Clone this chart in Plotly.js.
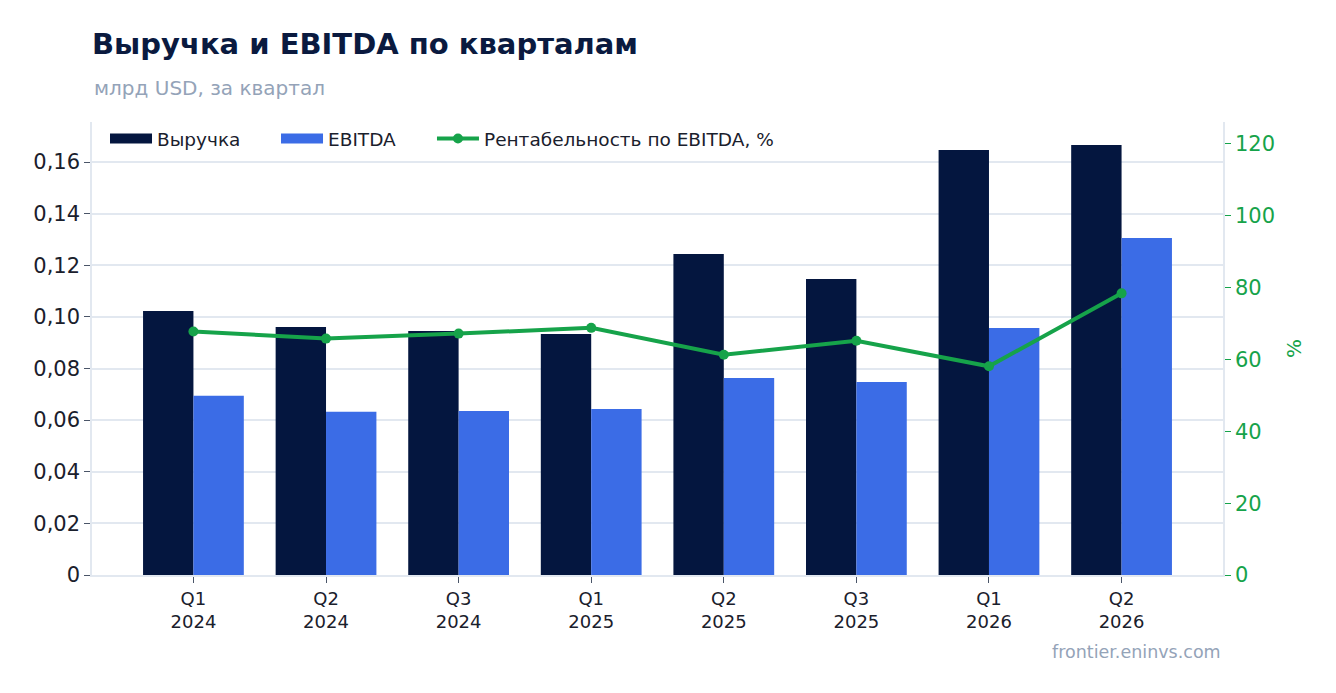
<!DOCTYPE html>
<html>
<head>
<meta charset="utf-8">
<script src="https://cdn.plot.ly/plotly-3.0.1.min.js"></script>
<style>html,body{margin:0;padding:0;background:#fff;}#chart{width:1336px;height:693px;}</style>
</head>
<body>
<div id="chart"></div>
<script>
const quarters = ["Q1<br>2024","Q2<br>2024","Q3<br>2024","Q1<br>2025","Q2<br>2025","Q3<br>2025","Q1<br>2026","Q2<br>2026"];
const revenue = [0.1023, 0.0961, 0.0945, 0.0934, 0.1244, 0.1147, 0.1647, 0.1666];
const ebitda = [0.0694, 0.0632, 0.0635, 0.0643, 0.0763, 0.0748, 0.0957, 0.1306];
const margin = [67.8, 65.8, 67.2, 68.8, 61.3, 65.2, 58.1, 78.4];
const leftTickVals = [0, 0.02, 0.04, 0.06, 0.08, 0.10, 0.12, 0.14, 0.16];
const leftTickText = ["0", "0,02", "0,04", "0,06", "0,08", "0,10", "0,12", "0,14", "0,16"];

const font = "DejaVu Sans, sans-serif";
const data = [
  {type:"bar", name:"Выручка", x:quarters, y:revenue, marker:{color:"#04163f"}, hoverinfo:"y", legendgroup:"rev", showlegend:false},
  {type:"bar", name:"EBITDA", x:quarters, y:ebitda, marker:{color:"#3b6ce6"}, hoverinfo:"y", legendgroup:"ebitda", showlegend:false},
  {type:"scatter", mode:"lines", name:"Выручка", x:[null], y:[null], legendgroup:"rev", legend:"legend", line:{color:"#04163f", width:14}, hoverinfo:"skip"},
  {type:"scatter", mode:"lines", name:"EBITDA", x:[null], y:[null], legendgroup:"ebitda", legend:"legend2", line:{color:"#3b6ce6", width:14}, hoverinfo:"skip"},
  {type:"scatter", mode:"lines+markers", name:"Рентабельность по EBITDA, %", x:quarters, y:margin, yaxis:"y2", legend:"legend3",
   line:{color:"#16a34a", width:4}, marker:{color:"#16a34a", size:10}}
];
const legendBase = {orientation:"h", y:1.0044, xanchor:"left", yanchor:"top", itemwidth:42,
                    font:{size:18.5, color:"#1a202c"}, bgcolor:"rgba(0,0,0,0)"};
const layout = {
  width:1336, height:693,
  margin:{l:92, r:113, t:122, b:118},
  paper_bgcolor:"#ffffff", plot_bgcolor:"#ffffff",
  font:{family:font, color:"#1a202c"},
  separators:", ",
  barmode:"group", bargap:0.24, bargroupgap:0,
  title:{text:"<b>Выручка и EBITDA по кварталам</b>", font:{size:29, color:"#0a1a3f", family:font},
         x:0, xref:"paper", xanchor:"left", y:1-44/693, yref:"container", yanchor:"middle"},
  showlegend:true,
  legend:Object.assign({}, legendBase, {x:0.0115}),
  legend2:Object.assign({}, legendBase, {x:0.1627}),
  legend3:Object.assign({}, legendBase, {x:0.3006}),
  xaxis:{type:"category", range:[-0.765, 7.765], showline:true, linecolor:"#e2e8f0", linewidth:2, ticks:"outside", ticklen:6, tickcolor:"#4a5568",
         tickfont:{size:18, color:"#1a202c"}, showgrid:false},
  yaxis:{range:[0,0.1755], tickmode:"array", tickvals:leftTickVals, ticktext:leftTickText, showgrid:true, gridcolor:"#e2e8f0", gridwidth:1.5, zeroline:false,
         showline:true, linecolor:"#e2e8f0", linewidth:1.5, ticks:"outside", ticklen:6, tickcolor:"#4a5568",
         tickfont:{size:21, color:"#1a202c"}},
  yaxis2:{overlaying:"y", side:"right", range:[0,126.1], dtick:20, tick0:0, showgrid:false, zeroline:false,
          showline:true, linecolor:"#e2e8f0", linewidth:1.5, ticks:"outside", ticklen:6, tickcolor:"#16a34a",
          tickfont:{size:21, color:"#16a34a"}, title:{text:"%", font:{size:20, color:"#16a34a"}, standoff:13}},
  annotations:[
    {text:"млрд USD, за квартал", xref:"paper", yref:"paper", x:0, y:(575-88)/453, xanchor:"left", yanchor:"middle",
     showarrow:false, font:{size:20, color:"#94a3b8", family:font}},
    {text:"frontier.eninvs.com", xref:"paper", yref:"paper", x:1, y:(575-652)/453, xanchor:"right", yanchor:"middle",
     showarrow:false, font:{size:17.5, color:"#94a3b8", family:font}}
  ]
};
Plotly.newPlot("chart", data, layout, {displayModeBar:false, responsive:false});
</script>
</body>
</html>
